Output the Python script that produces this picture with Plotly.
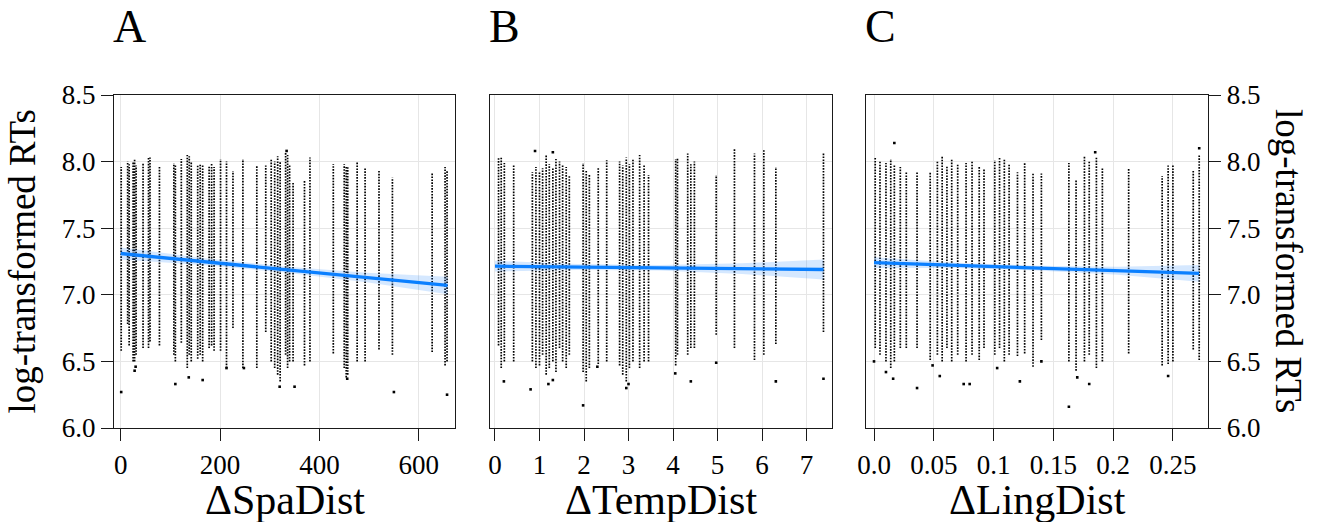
import plotly.graph_objects as go

W, H = 1322, 522

# ---------------- Panel A: ΔSpaDist ----------------
# vertical columns of observations: x, lowest and highest y of each column
a_x  = [1, 14, 17, 25, 28, 31, 45, 56, 59, 78, 107, 110, 122, 134, 138, 142, 155, 160, 165,
        178, 183, 188, 201, 213, 226, 246, 274, 292, 303, 310, 316, 321, 332, 336, 340, 347,
        370, 381, 428, 450, 454, 457, 476, 492, 520, 547, 627, 653, 657]
a_lo = [6.58, 6.78, 6.62, 6.50, 6.50, 6.55, 6.60, 6.60, 6.65, 6.62, 6.55, 6.50, 6.64, 6.45, 6.55,
        6.50, 6.52, 6.55, 6.50, 6.60, 6.62, 6.58, 6.58, 6.45, 6.75, 6.45, 6.45, 6.72, 6.50, 6.45,
        6.40, 6.35, 6.55, 6.45, 6.50, 6.50, 6.47, 6.50, 6.56, 6.45, 6.38, 6.40, 6.50, 6.50, 6.59,
        6.55, 6.57, 6.47, 6.50]
a_hi = [7.96, 8.00, 7.98, 8.00, 8.02, 7.97, 7.99, 8.03, 8.03, 7.96, 7.99, 7.98, 8.02, 8.05, 8.04,
        8.00, 7.97, 7.98, 7.98, 7.97, 7.99, 7.96, 8.02, 8.00, 7.93, 8.02, 7.97, 7.97, 8.02, 8.00,
        8.04, 8.00, 8.07, 8.05, 7.97, 7.84, 7.86, 8.03, 7.98, 7.98, 7.96, 7.96, 8.00, 7.96, 7.93,
        7.88, 7.92, 7.96, 7.93]
a_out_x = [1, 28, 30, 110, 137, 165, 213, 248, 320, 350, 456, 550, 657, 334]
a_out_y = [6.27, 6.43, 6.46, 6.33, 6.38, 6.36, 6.45, 6.45, 6.31, 6.31, 6.37, 6.27, 6.25, 8.08]
a_fit_x  = [0, 165, 330, 495, 658]
a_fit_y  = [7.31, 7.25, 7.19, 7.13, 7.07]
a_fit_hw = [0.045, 0.027, 0.022, 0.035, 0.065]

# ---------------- Panel B: ΔTempDist ----------------
b_x  = [0.08, 0.14, 0.21, 0.42, 0.84, 0.92, 1.00, 1.07, 1.15, 1.22, 1.30, 1.37, 1.45, 1.52, 1.60,
        1.67, 1.98, 2.05, 2.12, 2.32, 2.51, 2.80, 2.87, 2.95, 3.02, 3.10, 3.25, 3.35, 3.45, 4.06,
        4.10, 4.33, 4.40, 4.48, 4.97, 5.38, 5.83, 6.04, 6.31, 7.38]
b_lo = [6.62, 6.45, 6.50, 6.50, 6.50, 6.45, 6.47, 6.55, 6.40, 6.45, 6.50, 6.42, 6.60, 6.50, 6.45,
        6.55, 6.42, 6.35, 6.45, 6.48, 6.50, 6.47, 6.40, 6.35, 6.45, 6.50, 6.45, 6.50, 6.50, 6.47,
        6.55, 6.55, 6.60, 6.60, 6.70, 6.60, 6.51, 6.55, 6.63, 6.72]
b_hi = [8.03, 8.04, 7.99, 7.98, 7.92, 7.96, 7.93, 7.95, 8.05, 7.98, 7.95, 8.02, 8.00, 7.98, 7.96,
        7.90, 7.99, 7.93, 7.90, 7.95, 8.01, 8.00, 7.97, 8.03, 7.98, 8.02, 8.05, 7.98, 7.90, 8.02,
        8.03, 8.06, 7.98, 8.00, 7.90, 8.10, 8.06, 8.09, 7.96, 8.06]
b_out_x = [0.20, 0.80, 1.20, 1.30, 1.98, 2.30, 2.95, 3.00, 4.05, 4.40, 4.97, 6.31, 7.38, 0.90, 1.30]
b_out_y = [6.35, 6.29, 6.33, 6.36, 6.17, 6.46, 6.30, 6.33, 6.41, 6.35, 6.49, 6.35, 6.37, 8.08, 8.07]
b_fit_x  = [0, 1.85, 3.7, 5.55, 7.38]
b_fit_y  = [7.215, 7.209, 7.203, 7.196, 7.19]
b_fit_hw = [0.04, 0.022, 0.02, 0.04, 0.075]

# ---------------- Panel C: ΔLingDist ----------------
c_x  = [0.001, 0.005, 0.010, 0.014, 0.017, 0.022, 0.027, 0.036, 0.047, 0.053, 0.057, 0.061, 0.065,
        0.070, 0.077, 0.082, 0.088, 0.092, 0.101, 0.105, 0.109, 0.113, 0.120, 0.126, 0.133, 0.140,
        0.163, 0.169, 0.176, 0.180, 0.186, 0.191, 0.213, 0.241, 0.246, 0.250, 0.267, 0.272]
c_lo = [6.60, 6.55, 6.50, 6.45, 6.50, 6.60, 6.60, 6.60, 6.51, 6.55, 6.50, 6.60, 6.50, 6.55, 6.50,
        6.55, 6.51, 6.60, 6.55, 6.60, 6.50, 6.55, 6.54, 6.56, 6.46, 6.66, 6.50, 6.43, 6.50, 6.55,
        6.45, 6.50, 6.56, 6.47, 6.48, 6.50, 6.59, 6.51]
c_hi = [8.03, 8.00, 7.99, 8.02, 7.98, 7.96, 7.92, 7.92, 7.92, 8.00, 8.04, 7.97, 8.02, 7.98, 7.99,
        8.00, 7.96, 7.95, 8.01, 8.03, 8.02, 7.98, 7.92, 7.99, 7.91, 7.91, 7.99, 7.86, 8.04, 8.00,
        8.03, 7.96, 7.95, 7.89, 7.97, 7.97, 7.94, 8.05]
c_out_x = [0.000, 0.010, 0.016, 0.017, 0.036, 0.049, 0.055, 0.075, 0.080, 0.103, 0.122, 0.140,
           0.163, 0.170, 0.180, 0.246, 0.272, 0.185]
c_out_y = [6.50, 6.42, 6.37, 8.14, 6.30, 6.47, 6.39, 6.33, 6.33, 6.45, 6.35, 6.50,
           6.16, 6.38, 6.33, 6.39, 8.10, 8.07]
c_fit_x  = [0, 0.068, 0.136, 0.204, 0.272]
c_fit_y  = [7.241, 7.221, 7.201, 7.181, 7.161]
c_fit_hw = [0.04, 0.02, 0.018, 0.03, 0.063]

x_titles = ["ΔSpaDist", "ΔTempDist", "ΔLingDist"]
panel_letters = ["A", "B", "C"]
y_title = "log-transformed RTs"
y_ticks = [6.0, 6.5, 7.0, 7.5, 8.0, 8.5]
y_ticktext = ["6.0", "6.5", "7.0", "7.5", "8.0", "8.5"]
xa_ticks = [0, 200, 400, 600]
xb_ticks = [0, 1, 2, 3, 4, 5, 6, 7]
xc_ticks = [0, 0.05, 0.1, 0.15, 0.2, 0.25]
xc_ticktext = ["0.0", "0.05", "0.1", "0.15", "0.2", "0.25"]

FONT = "Liberation Serif"
LINE_BLUE = "#0a7fff"
BAND = "rgba(20,130,255,0.18)"

fig = go.Figure()

panels = [
    (a_x, a_lo, a_hi, a_out_x, a_out_y, a_fit_x, a_fit_y, a_fit_hw),
    (b_x, b_lo, b_hi, b_out_x, b_out_y, b_fit_x, b_fit_y, b_fit_hw),
    (c_x, c_lo, c_hi, c_out_x, c_out_y, c_fit_x, c_fit_y, c_fit_hw),
]

for i, (xs, lo, hi, ox, oy, fx, fy, fhw) in enumerate(panels):
    xa = "x" if i == 0 else f"x{i+1}"
    ya = "y" if i == 0 else f"y{i+1}"
    lx, ly = [], []
    for xv, l, h in zip(xs, lo, hi):
        lx += [xv, xv, None]
        ly += [l, h, None]
    fig.add_trace(go.Scatter(x=lx, y=ly, mode="lines", xaxis=xa, yaxis=ya,
                             line=dict(color="black", width=1.7, dash="1.6px,1.3px"),
                             hoverinfo="skip", showlegend=False))
    fig.add_trace(go.Scatter(x=ox, y=oy, mode="markers", xaxis=xa, yaxis=ya,
                             marker=dict(color="black", size=2.6, symbol="square",
                                         line=dict(width=0)),
                             showlegend=False))
    up = [y + h for y, h in zip(fy, fhw)]
    dn = [y - h for y, h in zip(fy, fhw)]
    fig.add_trace(go.Scatter(x=list(fx) + list(fx)[::-1], y=up + dn[::-1], mode="lines",
                             xaxis=xa, yaxis=ya, fill="toself", fillcolor=BAND,
                             line=dict(width=0), hoverinfo="skip", showlegend=False))
    fig.add_trace(go.Scatter(x=fx, y=fy, mode="lines", xaxis=xa, yaxis=ya,
                             line=dict(color=LINE_BLUE, width=3.3), showlegend=False))

px = lambda v: v / W
py = lambda v: (H - v) / H
ydom = [py(428), py(95)]

common_x = dict(showline=True, linecolor="#1a1a1a", linewidth=1.3, mirror=True,
                ticks="outside", ticklen=12, tickwidth=1.3, tickcolor="#1a1a1a",
                showgrid=True, gridcolor="#e6e6e6", gridwidth=1.4, zeroline=False,
                automargin=False,
                tickfont=dict(family=FONT, size=27, color="black"))
common_y = dict(common_x, range=[6.0, 8.5], tickvals=y_ticks, ticktext=y_ticktext, domain=ydom)

fig.update_layout(
    template="none",
    width=W, height=H, margin=dict(l=0, r=0, t=0, b=0, autoexpand=False),
    paper_bgcolor="white", plot_bgcolor="white",
    xaxis=dict(common_x, domain=[px(114), px(455)], range=[-13.5, 673], tickvals=xa_ticks,
               anchor="y"),
    xaxis2=dict(common_x, domain=[px(490), px(831.7)], range=[-0.112, 7.565], tickvals=xb_ticks,
                anchor="y2"),
    xaxis3=dict(common_x, domain=[px(866), px(1208.3)], range=[-0.0067, 0.2796],
                tickvals=xc_ticks, ticktext=xc_ticktext, anchor="y3"),
    yaxis=dict(common_y, anchor="x"),
    yaxis2=dict(common_y, anchor="x2", showticklabels=False, ticks=""),
    yaxis3=dict(common_y, anchor="x3", side="right"),
)

ann = []
for cx, t in zip([284.5, 660.9, 1037.2], x_titles):
    ann.append(dict(x=px(cx), y=py(500), xref="paper", yref="paper", text=t, showarrow=False,
                    xanchor="center", yanchor="middle", borderpad=0,
                    font=dict(family=FONT, size=42, color="black")))
for lx0, t in zip([111, 487, 863], panel_letters):
    ann.append(dict(x=px(lx0), y=py(27), xref="paper", yref="paper", text=t, showarrow=False,
                    xanchor="left", yanchor="middle",
                    font=dict(family=FONT, size=46, color="black")))
ann.append(dict(x=px(22), y=py(261.5), xref="paper", yref="paper", text=y_title,
                showarrow=False, textangle=-90, xanchor="center", yanchor="middle",
                font=dict(family=FONT, size=37, color="black")))
ann.append(dict(x=px(1288.5), y=py(261.5), xref="paper", yref="paper", text=y_title,
                showarrow=False, textangle=90, xanchor="center", yanchor="middle",
                font=dict(family=FONT, size=37, color="black")))
fig.update_layout(annotations=ann)

fig.write_html("out.html", config={"displayModeBar": False},
               post_script="document.body.style.margin='0';document.body.style.overflow='hidden';")
